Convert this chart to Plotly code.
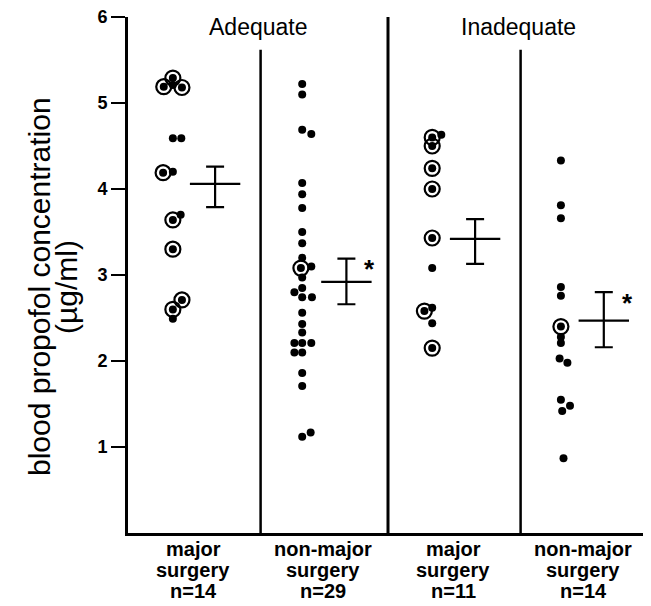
import plotly.graph_objects as go

# ---------------- data ----------------
group_lines = [["major", "surgery", "n=14"], ["non-major", "surgery", "n=29"],
               ["major", "surgery", "n=11"], ["non-major", "surgery", "n=14"]]
header_labels = ["Adequate", "Inadequate"]
y_ticks = [1, 2, 3, 4, 5, 6]

# Adequate, major surgery
adeq_major_vals = [5.29, 5.19, 5.18, 5.21, 4.59, 4.59, 4.20, 4.19, 3.70, 3.64, 3.30, 2.71, 2.60, 2.49]
adeq_major_dx = [0, -0.07, 0.07, 0, 0, 0.065, 0, -0.075, 0.06, 0, 0, 0.07, 0, 0]
adeq_major_circ = [1, 1, 1, 0, 0, 0, 0, 1, 0, 1, 1, 1, 1, 0]

# Adequate, non-major surgery
adeq_nonmajor_vals = [5.22, 5.10, 4.69, 4.64, 4.07, 3.94, 3.78, 3.50, 3.37, 3.20, 3.08, 3.10, 2.97, 2.85,
                      2.80, 2.74, 2.74, 2.56, 2.43, 2.33, 2.21, 2.21, 2.21, 2.10, 2.10, 1.86, 1.71, 1.17, 1.12]
adeq_nonmajor_dx = [0, 0, 0, 0.07, 0, 0, 0, 0, 0, 0, -0.01, 0.07, 0, 0,
                    -0.06, 0, 0.075, 0, 0, 0, -0.06, 0, 0.07, -0.06, 0, 0, 0, 0.065, 0]
adeq_nonmajor_circ = [0] * 10 + [1] + [0] * 18

# Inadequate, major surgery
inad_major_vals = [4.60, 4.63, 4.50, 4.24, 4.00, 3.43, 3.08, 2.58, 2.62, 2.44, 2.15]
inad_major_dx = [0, 0.07, 0, 0, 0, 0, 0, -0.06, 0, 0, 0]
inad_major_circ = [1, 0, 1, 1, 1, 1, 0, 1, 0, 0, 1]

# Inadequate, non-major surgery
inad_nonmajor_vals = [4.33, 3.81, 3.66, 2.86, 2.76, 2.40, 2.28, 2.21, 2.03, 1.98, 1.55, 1.48, 1.42, 0.87]
inad_nonmajor_dx = [0, 0, 0, 0, 0, 0, 0, 0, -0.01, 0.05, 0, 0.07, 0.01, 0.02]
inad_nonmajor_circ = [0, 0, 0, 0, 0, 1, 0, 0, 0, 0, 0, 0, 0, 0]

# mean and SEM limits
means = [4.06, 2.92, 3.42, 2.47]
upper = [4.26, 3.19, 3.65, 2.80]
lower = [3.79, 2.66, 3.13, 2.16]
significant = [False, True, False, True]

# ---------------- layout helpers ----------------
group_pos = [0.5, 1.5, 2.5, 3.5]
column_x = [0.345, 1.34, 2.34, 3.33]
mean_x = [0.67, 1.68, 2.67, 3.66]

groups = [
    (adeq_major_vals, adeq_major_dx, adeq_major_circ),
    (adeq_nonmajor_vals, adeq_nonmajor_dx, adeq_nonmajor_circ),
    (inad_major_vals, inad_major_dx, inad_major_circ),
    (inad_nonmajor_vals, inad_nonmajor_dx, inad_nonmajor_circ),
]

FONT = "Liberation Sans, Arial, Helvetica, sans-serif"
fig = go.Figure()

for gi, (vals, dxs, circ) in enumerate(groups):
    xs = [column_x[gi] + d for d in dxs]
    cx = [x for x, c in zip(xs, circ) if c]
    cy = [v for v, c in zip(vals, circ) if c]
    fig.add_trace(go.Scatter(x=cx, y=cy, mode="markers", showlegend=False,
                             marker=dict(symbol="circle-open", size=15, color="black",
                                         line=dict(width=2.2, color="black")),
                             cliponaxis=False))
    fig.add_trace(go.Scatter(x=xs, y=vals, mode="markers", showlegend=False,
                             marker=dict(symbol="circle", size=8, color="black"),
                             cliponaxis=False))

# mean +/- SEM
fig.add_trace(go.Scatter(
    x=mean_x, y=means, mode="markers", showlegend=False,
    marker=dict(symbol="line-ew", size=36, color="black", line=dict(width=2.2, color="black")),
    error_y=dict(type="data", symmetric=False,
                 array=[u - m for u, m in zip(upper, means)],
                 arrayminus=[m - l for m, l in zip(means, lower)],
                 color="black", thickness=2.2, width=9),
))

annotations = []
for i, sig in enumerate(significant):
    if sig:
        annotations.append(dict(x=mean_x[i] + 0.18, y=upper[i] - 0.12, text="<b>*</b>",
                                showarrow=False, xref="x", yref="y",
                                font=dict(family=FONT, size=26, color="black")))

# headers
for hx, lab in zip([1.0, 3.0], header_labels):
    annotations.append(dict(x=hx, y=5.88, text=lab, showarrow=False, xref="x", yref="y",
                            font=dict(family=FONT, size=23, color="black")))

# group labels under the axis (three lines each)
for gx, lines in zip(group_pos, group_lines):
    for li, txt in enumerate(lines):
        annotations.append(dict(x=gx, y=0, xref="x", yref="paper", yanchor="middle",
                                yshift=-(16 + 21 * li), text="<b>%s</b>" % txt, showarrow=False,
                                font=dict(family=FONT, size=20, color="black")))

# y-axis title (two lines)
annotations.append(dict(x=-0.169, y=0.477, xref="paper", yref="paper", textangle=-90,
                        xanchor="center", yanchor="middle",
                        text="blood propofol concentration", showarrow=False,
                        font=dict(family=FONT, size=30, color="black")))
annotations.append(dict(x=-0.117, y=0.477, xref="paper", yref="paper", textangle=-90,
                        xanchor="center", yanchor="middle",
                        text="(µg/ml)", showarrow=False,
                        font=dict(family=FONT, size=30, color="black")))

shapes = []
for xv, ytop, w in [(1.02, 5.62, 2.5), (2.0, 6.0, 3), (3.02, 5.62, 2.5), (4.0, 5.62, 2.5)]:
    shapes.append(dict(type="line", xref="x", yref="y", x0=xv, x1=xv, y0=0, y1=ytop,
                       line=dict(color="black", width=w)))

fig.update_layout(
    width=651, height=606,
    margin=dict(l=120, r=11, t=9, b=81),
    paper_bgcolor="white", plot_bgcolor="white",
    showlegend=False,
    annotations=annotations,
    shapes=shapes,
    xaxis=dict(range=[0, 4], showgrid=False, zeroline=False, automargin=False,
               showline=True, linecolor="black", linewidth=3,
               showticklabels=False, ticks=""),
    yaxis=dict(range=[0, 6], showgrid=False, zeroline=False, automargin=False,
               showline=True, linecolor="black", linewidth=3,
               tickmode="array", tickvals=y_ticks, ticktext=[str(t) for t in y_ticks],
               ticks="outside", ticklen=14, tickwidth=2.2, tickcolor="black",
               ticklabeloverflow="allow",
               tickfont=dict(family=FONT, size=18, color="black", weight="bold")),
)

fig.write_html("out.html")
